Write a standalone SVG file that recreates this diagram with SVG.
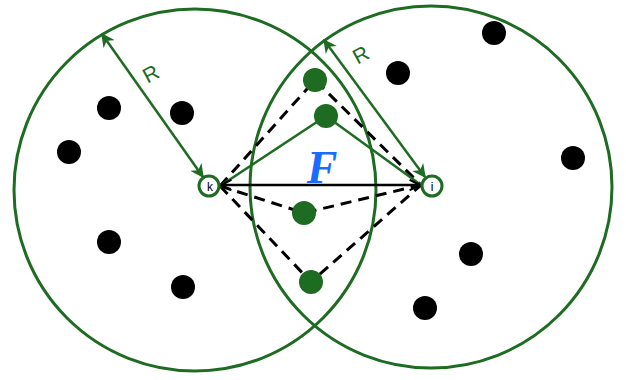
<svg xmlns="http://www.w3.org/2000/svg" width="626" height="380" viewBox="0 0 626 380">
<defs>
<style>
.range{fill:none;stroke:#1e6b22;stroke-width:3}
.blk{fill:#000}
.grn{fill:#1e6b22}
.dash{fill:none;stroke:#000;stroke-width:3;stroke-dasharray:11 7}
.gl{fill:none;stroke:#1e6b22;stroke-width:2.5}
.rarrow{stroke:#1e6b22;stroke-width:2.5;marker-start:url(#ga);marker-end:url(#ga)}
.node{fill:#fff;stroke:#1e6b22;stroke-width:3}
.nl{font-family:"Liberation Sans",Arial,sans-serif;font-size:12px;fill:#000;text-anchor:middle}
.rl{font-family:"Liberation Sans",Arial,sans-serif;font-size:21px;fill:#1e6b22;text-anchor:middle}
</style>
<marker id="ga" viewBox="0 0 10 10" refX="9" refY="5" markerWidth="5.5" markerHeight="5.5" orient="auto-start-reverse" markerUnits="strokeWidth">
<path d="M0,0 L10,5 L0,10 L3,5 z" fill="#1e6b22"/>
</marker>
<marker id="ba" viewBox="0 0 12 12" refX="11" refY="6" markerWidth="5" markerHeight="5" orient="auto-start-reverse" markerUnits="strokeWidth">
<path d="M1,1 L11,6 L1,11" fill="none" stroke="#000" stroke-width="2"/>
</marker>
</defs>
<g id="ranges">
<circle class="range" cx="195" cy="190" r="181"/>
<circle class="range" cx="431" cy="187" r="181"/>
</g>
<g id="connectors">
<path class="dash" d="M220,186 L315,80 L421,185"/>
<path class="dash" d="M220,186 L304,213 L421,185"/>
<path class="dash" d="M220,186 L311,282 L421,185"/>
<path class="gl" d="M220,186 L326,116 L421,185"/>
<line x1="221" y1="185" x2="420" y2="185" stroke="#000" stroke-width="2.5" marker-start="url(#ba)" marker-end="url(#ba)"/>
<line class="rarrow" x1="102" y1="34" x2="203" y2="177"/>
<line class="rarrow" x1="324" y1="40" x2="425" y2="177"/>
</g>
<g id="labels">
<text class="rl" x="151" y="81" transform="rotate(-28 151 74)">R</text>
<text class="rl" x="361" y="62" transform="rotate(-28 361 55)">R</text>
<text x="322" y="183" font-family="Liberation Serif,'Times New Roman',serif" font-size="46" font-weight="bold" font-style="italic" fill="#1a6cff" text-anchor="middle">F</text>
</g>
<g id="black-nodes">
<circle class="blk" cx="109" cy="108" r="12"/>
<circle class="blk" cx="182" cy="113" r="12"/>
<circle class="blk" cx="69" cy="152" r="12"/>
<circle class="blk" cx="109" cy="242" r="12"/>
<circle class="blk" cx="183" cy="287" r="12"/>
<circle class="blk" cx="494" cy="33" r="12"/>
<circle class="blk" cx="398" cy="73" r="12"/>
<circle class="blk" cx="573" cy="158" r="12"/>
<circle class="blk" cx="471" cy="254" r="12"/>
<circle class="blk" cx="425" cy="308" r="12"/>
</g>
<g id="relay-nodes">
<circle class="grn" cx="315" cy="80" r="12"/>
<circle class="grn" cx="326" cy="116" r="12"/>
<circle class="grn" cx="304" cy="213" r="12"/>
<circle class="grn" cx="311" cy="282" r="12"/>
</g>
<g id="node-k">
<circle class="node" cx="209" cy="186" r="10"/>
<text class="nl" x="210" y="191">k</text>
</g>
<g id="node-i">
<circle class="node" cx="432" cy="186" r="10"/>
<text class="nl" x="432" y="191">i</text>
</g>
</svg>
